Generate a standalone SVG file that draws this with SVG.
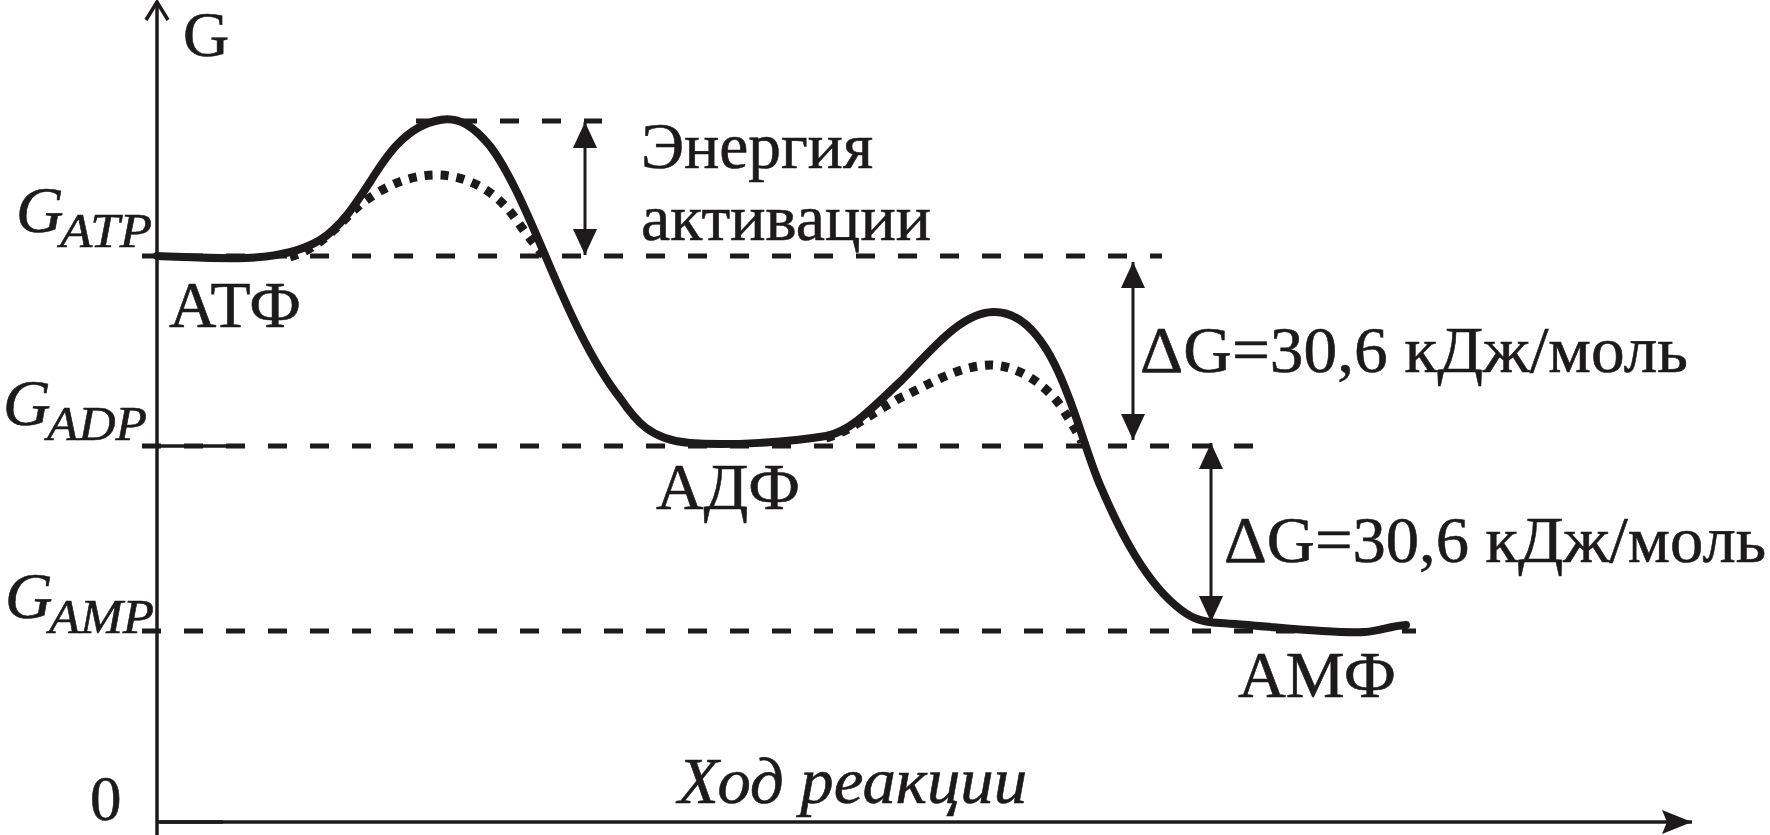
<svg xmlns="http://www.w3.org/2000/svg" width="1770" height="835" viewBox="0 0 1770 835">
<style>
  .t { font-family: "Liberation Serif", "DejaVu Serif", serif; fill: #1c1a1a; stroke: #1c1a1a; stroke-width: 0.6; }
  .it { font-style: italic; }
  .axis { stroke: #1c1a1a; stroke-width: 3.5; fill: none; }
  .lvl { stroke: #1c1a1a; stroke-width: 5; stroke-dasharray: 19 23; fill: none; }
  .curve { stroke: #1c1a1a; stroke-width: 8; fill: none; stroke-linecap: round; stroke-linejoin: round; }
  .dots { stroke: #1c1a1a; stroke-width: 9; stroke-dasharray: 8 8; fill: none; }
  .dim { stroke: #1c1a1a; stroke-width: 3; fill: none; }
</style>
<defs>
  <marker id="ah" viewBox="0 0 26 24" refX="26" refY="12" markerWidth="26" markerHeight="24" markerUnits="userSpaceOnUse" orient="auto-start-reverse">
    <path d="M0,0 L26,12 L0,24 Z" fill="#1c1a1a"/>
  </marker>
  <marker id="axh" viewBox="0 0 30 24" refX="30" refY="12" markerWidth="30" markerHeight="24" markerUnits="userSpaceOnUse" orient="auto">
    <path d="M0,0 L30,12 L0,24 L5,12 Z" fill="#1c1a1a"/>
  </marker>
</defs>

<g id="axes">
  <line class="axis" x1="157" y1="835" x2="157" y2="2"/>
  <polyline class="axis" points="146,20 157,2 168,20"/>
  <line class="axis" x1="157" y1="822" x2="1692" y2="822" marker-end="url(#axh)"/>
  <line class="axis" x1="160" y1="822" x2="223" y2="822" stroke-width="5"/>
</g>

<g id="levels">
  <line class="lvl" x1="416" y1="121" x2="602" y2="121"/>
  <line class="lvl" x1="142" y1="256" x2="1162" y2="256"/>
  <line class="lvl" x1="142" y1="446" x2="1270" y2="446"/>
  <line class="axis" x1="157" y1="446" x2="227" y2="446" stroke-width="4"/>
  <line class="lvl" x1="142" y1="631" x2="1416" y2="631"/>
</g>

<g id="curves">
  <path class="curve" d="M157,256 C190,257 215,259 245,258 C275,257 300,252 320,240 C340,228 355,205 370,182 C385,158 405,126 440,120 C460,116 475,128 490,146 C510,172 530,220 548,262 C565,302 590,360 620,398 C635,420 650,440 690,443 C730,446 790,442 826,436 C850,432 870,410 902,380 C930,352 960,313 993,312 C1020,311 1040,335 1055,365 C1075,405 1085,450 1100,485 C1115,520 1140,575 1175,605 C1190,618 1200,622 1220,623 C1270,626 1330,634 1365,632 C1380,631 1390,626 1406,625"/>
  <path class="dots" d="M290,257 C315,250 335,230 352,212 C370,195 400,176 433,175 C465,174 495,190 515,218 C530,240 540,250 547,260"/>
  <path class="dots" d="M826,438 C850,432 872,412 902,397 C930,384 960,365 991,365 C1020,366 1045,385 1060,405 C1070,420 1076,430 1082,442"/>
</g>

<g id="connectors">
  <line class="dim" x1="585" y1="122" x2="585" y2="255" marker-start="url(#ah)" marker-end="url(#ah)"/>
  <line class="dim" x1="1133" y1="262" x2="1133" y2="440" marker-start="url(#ah)" marker-end="url(#ah)"/>
  <line class="dim" x1="1211" y1="443" x2="1211" y2="622" marker-start="url(#ah)" marker-end="url(#ah)"/>
</g>

<g id="label-G"><text class="t" x="183" y="56" font-size="64">G</text></g>
<g id="label-0"><text class="t" x="90" y="820" font-size="63">0</text></g>
<g id="label-GATP">
  <text class="t it" x="16" y="232" font-size="66">G</text>
  <text class="t it" x="60" y="247" font-size="48" textLength="92" lengthAdjust="spacingAndGlyphs">ATP</text>
</g>
<g id="label-GADP">
  <text class="t it" x="3" y="425" font-size="66">G</text>
  <text class="t it" x="47" y="440" font-size="48" textLength="100" lengthAdjust="spacingAndGlyphs">ADP</text>
</g>
<g id="label-GAMP">
  <text class="t it" x="5" y="618" font-size="66">G</text>
  <text class="t it" x="49" y="633" font-size="48" textLength="105" lengthAdjust="spacingAndGlyphs">AMP</text>
</g>
<g id="node-ATF"><text class="t" x="169" y="327" font-size="65" textLength="132" lengthAdjust="spacingAndGlyphs">АТФ</text></g>
<g id="node-ADF"><text class="t" x="656" y="509" font-size="66" textLength="144" lengthAdjust="spacingAndGlyphs">АДФ</text></g>
<g id="node-AMF"><text class="t" x="1238" y="697" font-size="65" textLength="158" lengthAdjust="spacingAndGlyphs">АМФ</text></g>
<g id="label-activation">
  <text class="t" x="641" y="168" font-size="66" textLength="232" lengthAdjust="spacingAndGlyphs">Энергия</text>
  <text class="t" x="641" y="240" font-size="66" textLength="290" lengthAdjust="spacingAndGlyphs">активации</text>
</g>
<g id="label-dG1"><text class="t" x="1140" y="372" font-size="66" textLength="548" lengthAdjust="spacingAndGlyphs">ΔG=30,6 кДж/моль</text></g>
<g id="label-dG2"><text class="t" x="1224" y="562" font-size="66" textLength="542" lengthAdjust="spacingAndGlyphs">ΔG=30,6 кДж/моль</text></g>
<g id="label-xaxis"><text class="t it" x="678" y="803" font-size="65" textLength="349" lengthAdjust="spacingAndGlyphs">Ход реакции</text></g>
</svg>
